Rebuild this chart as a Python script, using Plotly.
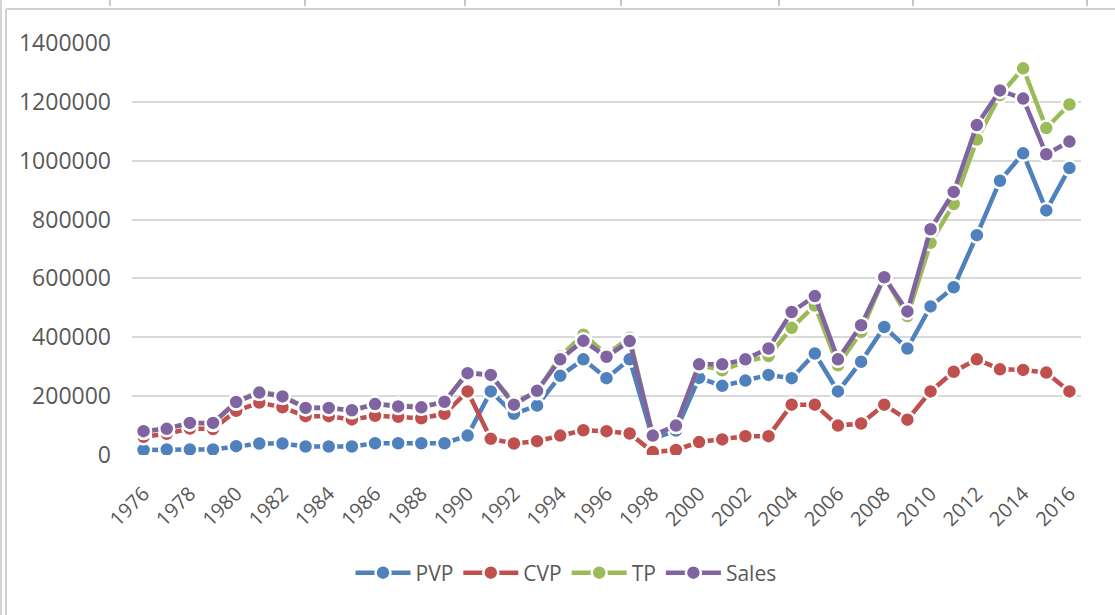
import plotly.graph_objects as go

years = list(range(1976, 2017))

pvp = [17000, 19000, 19000, 19000, 30000, 39000, 39000, 29000, 29000, 29000,
       40000, 40000, 40000, 40000, 66000, 216000, 140000, 168000, 269000, 325000,
       261000, 325000, 56000, 83000, 262000, 235000, 253000, 272000, 261000, 345000,
       216000, 317000, 435000, 362000, 505000, 570000, 747000, 932000, 1025000, 831000,
       975000]

cvp = [62000, 72000, 90000, 88000, 150000, 178000, 162000, 132000, 132000, 121000,
       133000, 130000, 125000, 140000, 216000, 55000, 39000, 47000, 66000, 84000,
       81000, 73000, 10000, 17000, 44000, 53000, 64000, 64000, 171000, 171000,
       100000, 107000, 171000, 120000, 216000, 283000, 325000, 291000, 289000, 280000,
       216000]

tp = [80000, 91000, 109000, 107000, 180000, 217000, 201000, 161000, 161000, 150000,
      173000, 170000, 165000, 180000, 282000, 271000, 179000, 215000, 335000, 409000,
      342000, 398000, 66000, 100000, 306000, 288000, 317000, 336000, 432000, 508000,
      305000, 418000, 606000, 472000, 721000, 853000, 1072000, 1223000, 1314000, 1111000,
      1191000]

sales = [81000, 89000, 109000, 109000, 180000, 212000, 199000, 160000, 160000, 152000,
         173000, 165000, 162000, 181000, 278000, 272000, 171000, 218000, 325000, 388000,
         334000, 387000, 66000, 100000, 308000, 308000, 325000, 362000, 486000, 540000,
         325000, 441000, 604000, 488000, 767000, 894000, 1121000, 1239000, 1211000, 1022000,
         1065000]

series_names = ["PVP", "CVP", "TP", "Sales"]
series_values = [pvp, cvp, tp, sales]
colors = ["#4F81BD", "#C0504D", "#9BBB59", "#8064A2"]

y_ticks = [0, 200000, 400000, 600000, 800000, 1000000, 1200000, 1400000]
x_ticks = list(range(1976, 2017, 2))

W, H = 1115, 615
L, R, T, B = 132, 34, 43, 160
pw, ph = W - L - R, H - T - B

FONT = "Open Sans, Lato, sans-serif"

fig = go.Figure()
for name, vals, col in zip(series_names, series_values, colors):
    fig.add_trace(go.Scatter(
        x=years, y=vals, name=name, mode="lines+markers",
        line=dict(color=col, width=4.5),
        marker=dict(symbol="circle", size=15, color=col,
                    line=dict(color="white", width=2.5)),
    ))

def px_x(p):
    return (p - L) / pw

def px_y(p):
    return (H - B - p) / ph

shapes = []
border = "#D0D0D0"
shapes.append(dict(type="line", xref="paper", yref="paper",
                   x0=px_x(6), x1=px_x(1115), y0=px_y(9), y1=px_y(9),
                   line=dict(color=border, width=2)))
shapes.append(dict(type="line", xref="paper", yref="paper",
                   x0=px_x(6), x1=px_x(6), y0=px_y(9), y1=px_y(615),
                   line=dict(color=border, width=2)))
for cx in [110, 305, 465, 621, 779, 913, 1087]:
    shapes.append(dict(type="line", xref="paper", yref="paper",
                       x0=px_x(cx), x1=px_x(cx), y0=px_y(0), y1=px_y(6),
                       line=dict(color="#C8C8C8", width=2)))
shapes.append(dict(type="line", xref="paper", yref="paper",
                   x0=px_x(1), x1=px_x(1), y0=px_y(0), y1=px_y(615),
                   line=dict(color="#D4D4D4", width=2)))

fig.update_layout(
    width=W, height=H,
    margin=dict(l=L, r=R, t=T, b=B),
    paper_bgcolor="white", plot_bgcolor="white",
    font=dict(family=FONT, color="#595959", size=21),
    showlegend=True,
    legend=dict(orientation="h", x=px_x(566), xanchor="center",
                y=px_y(573), yanchor="middle",
                font=dict(family=FONT, size=21, color="#595959"),
                itemwidth=55, tracegroupgap=0),
    shapes=shapes,
    xaxis=dict(
        range=[1975.5, 2016.5], tickmode="array", tickvals=x_ticks,
        ticktext=[str(v) for v in x_ticks], tickangle=-45,
        tickfont=dict(family=FONT, size=20, color="#595959"),
        showgrid=False, zeroline=False, showline=False, ticks="",
        ticklabelstandoff=22,
    ),
    yaxis=dict(
        range=[0, 1400000], tickmode="array", tickvals=y_ticks,
        ticktext=[str(v) for v in y_ticks],
        tickfont=dict(family=FONT, size=23, color="#595959"),
        showgrid=True, gridcolor="#D9D9D9", gridwidth=2,
        zeroline=False, showline=False, ticks="", ticklabelstandoff=20,
    ),
)

fig.write_html("out.html", config={"displayModeBar": False},
               post_script="document.body.style.margin='0px';document.body.style.overflow='hidden';")
